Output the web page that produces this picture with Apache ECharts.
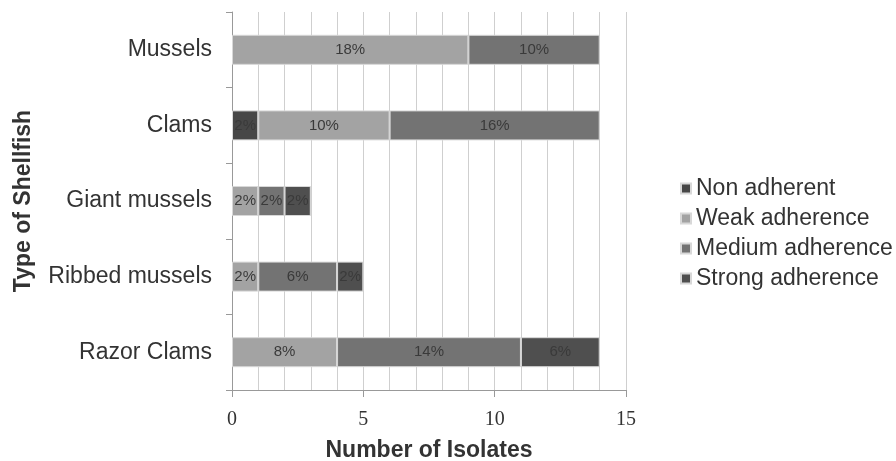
<!DOCTYPE html>
<html>
<head>
<meta charset="utf-8">
<script src="https://cdn.jsdelivr.net/npm/echarts@6/dist/echarts.min.js"></script>
<style>
  html, body { margin: 0; padding: 0; background: #fff; }
  #chart { width: 896px; height: 461px; }
</style>
</head>
<body>
<div id="chart"></div>
<script>
const categories = ['Razor Clams', 'Ribbed mussels', 'Giant mussels', 'Clams', 'Mussels'];
const seriesNames = ['Non adherent', 'Weak adherence', 'Medium adherence', 'Strong adherence'];

// number of isolates per type (null = none)
const nonAdherent = [null, null, null, 1, null];
const weak = [4, 1, 1, 5, 9];
const medium = [7, 3, 1, 8, 5];
const strong = [3, 1, 1, null, null];

// percentage labels printed in the bars
const nonAdherentPct = ['', '', '', '2%', ''];
const weakPct = ['8%', '2%', '2%', '10%', '18%'];
const mediumPct = ['14%', '6%', '2%', '16%', '10%'];
const strongPct = ['6%', '2%', '2%', '', ''];

const colors = ['#474747', '#a3a3a3', '#737373', '#4f4f4f'];
const values = [nonAdherent, weak, medium, strong];
const pcts = [nonAdherentPct, weakPct, mediumPct, strongPct];

const sans = 'Liberation Sans, Arial, sans-serif';

const chart = echarts.init(document.getElementById('chart'));

const series = seriesNames.map((name, i) => ({
  name: name,
  type: 'bar',
  stack: 'total',
  barWidth: 30,
  data: values[i],
  itemStyle: { color: colors[i], borderColor: '#d8d8d8', borderWidth: 1 },
  label: {
    show: true,
    position: 'inside',
    color: '#3a3a3a',
    fontSize: 15,
    fontFamily: sans,
    formatter: p => pcts[i][p.dataIndex] || ''
  }
}));

chart.setOption({
  animation: false,
  color: colors,
  grid: { left: 232, right: 270, top: 12, bottom: 71, outerBoundsMode: 'none', containLabel: false },
  legend: {
    orient: 'vertical',
    left: 675,
    top: 172,
    itemWidth: 10,
    itemHeight: 10,
    itemGap: 7,
    icon: 'rect',
    textStyle: { fontSize: 23, color: '#333', fontFamily: sans },
    data: seriesNames
  },
  xAxis: {
    type: 'value',
    min: 0,
    max: 15,
    interval: 5,
    name: 'Number of Isolates',
    nameLocation: 'middle',
    nameGap: 49,
    nameTextStyle: { fontSize: 23, fontWeight: 'bold', color: '#333', fontFamily: sans },
    axisLine: { show: true, lineStyle: { color: '#999' } },
    axisTick: { show: true, length: 7, lineStyle: { color: '#999' } },
    axisLabel: { fontSize: 20, color: '#333', margin: 20, fontFamily: 'Liberation Serif, Times New Roman, serif' },
    splitLine: { show: true, lineStyle: { color: '#cfcfcf' } },
    minorTick: { show: false, splitNumber: 5 },
    minorSplitLine: { show: true, lineStyle: { color: '#cfcfcf' } }
  },
  yAxis: {
    type: 'category',
    data: categories,
    name: 'Type of Shellfish',
    nameLocation: 'middle',
    nameRotate: 90,
    nameGap: 197,
    nameTextStyle: { fontSize: 23, fontWeight: 'bold', color: '#333', fontFamily: sans },
    axisLine: { show: true, lineStyle: { color: '#999' } },
    axisTick: { show: true, length: 6, lineStyle: { color: '#999' } },
    axisLabel: { fontSize: 23, color: '#333', margin: 20, fontFamily: sans },
    splitLine: { show: false }
  },
  series: series
});
</script>
</body>
</html>
